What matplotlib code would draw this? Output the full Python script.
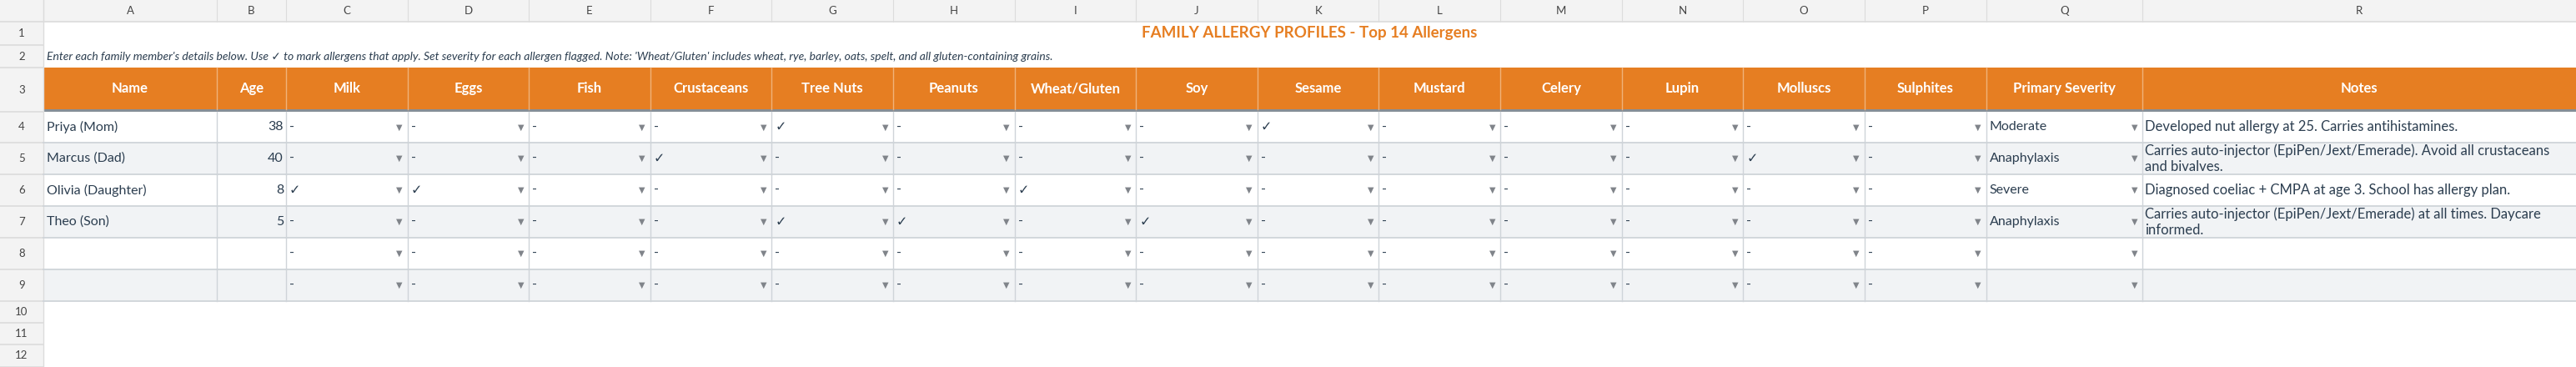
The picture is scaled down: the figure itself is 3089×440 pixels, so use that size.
import matplotlib.pyplot as plt
from matplotlib.patches import Rectangle

plt.rcParams["font.family"] = ["Lato", "DejaVu Sans"]

# Data
title = "FAMILY ALLERGY PROFILES - Top 14 Allergens"
subtitle = ("Enter each family member's details below. Use \u2713 to mark allergens that apply. "
            "Set severity for each allergen flagged. Note: 'Wheat/Gluten' includes wheat, rye, barley, oats, spelt, "
            "and all gluten-containing grains.")
allergens = ["Milk", "Eggs", "Fish", "Crustaceans", "Tree Nuts", "Peanuts", "Wheat/Gluten",
             "Soy", "Sesame", "Mustard", "Celery", "Lupin", "Molluscs", "Sulphites"]
headers = ["Name", "Age"] + allergens + ["Primary Severity", "Notes"]
names = ["Priya (Mom)", "Marcus (Dad)", "Olivia (Daughter)", "Theo (Son)", "", ""]
ages = ["38", "40", "8", "5", "", ""]
flags = [
    ["Tree Nuts", "Sesame"],
    ["Crustaceans", "Molluscs"],
    ["Milk", "Eggs", "Wheat/Gluten"],
    ["Tree Nuts", "Peanuts", "Soy"],
    [],
    [],
]
severity = ["Moderate", "Anaphylaxis", "Severe", "Anaphylaxis", "", ""]
notes = [
    "Developed nut allergy at 25. Carries antihistamines.",
    "Carries auto-injector (EpiPen/Jext/Emerade). Avoid all crustaceans\nand bivalves.",
    "Diagnosed coeliac + CMPA at age 3. School has allergy plan.",
    "Carries auto-injector (EpiPen/Jext/Emerade) at all times. Daycare\ninformed.",
    "", "",
]
col_letters = list("ABCDEFGHIJKLMNOPQR")

# Layout (pixels)
W, H = 3089, 440
aw = (2381.5 - 343) / 14
col_x = [52, 260, 343] + [343 + aw * (i + 1) for i in range(14)] + [2569, 3089]
row_y = [26, 54, 81, 134, 171, 209, 247, 285, 323, 361, 387, 413, 440]

ORANGE = "#E67E22"
TXT = "#2c3e50"
GRID = "#cfd4d9"
HDR_BG = "#f3f3f3"
ALT = "#f1f3f5"
FS = 11.5

fig = plt.figure(figsize=(W / 100, H / 100), dpi=100)
ax = fig.add_axes([0, 0, 1, 1])
ax.set_xlim(0, W)
ax.set_ylim(H, 0)
ax.axis("off")

# spreadsheet headers
ax.add_patch(Rectangle((0, 0), W, 26, color=HDR_BG, lw=0))
ax.add_patch(Rectangle((0, 0), 52, H, color=HDR_BG, lw=0))
for i, L in enumerate(col_letters):
    ax.text((col_x[i] + col_x[i + 1]) / 2, 13, L, ha="center", va="center", fontsize=9.5, color="#444")
    ax.plot([col_x[i], col_x[i]], [0, 26], color="#dcdcdc", lw=0.8)
ax.plot([0, W], [26, 26], color="#dcdcdc", lw=1.2)
row_edges = [0] + row_y
for r in range(12):
    ax.text(26, (row_edges[r + 1] + row_edges[r + 2]) / 2, str(r + 1), ha="center", va="center",
            fontsize=9.5, color="#444")
    ax.plot([0, 52], [row_edges[r + 2], row_edges[r + 2]], color="#dcdcdc", lw=1.2)
ax.plot([52, 52], [0, H], color="#dcdcdc", lw=1)

# title and subtitle
ax.text((52 + W) / 2, 40, title, ha="center", va="center", fontsize=13.5, fontweight="bold", color=ORANGE)
ax.text(56, 68, subtitle, ha="left", va="center", fontsize=10, style="italic", color=TXT)

# header row
ax.add_patch(Rectangle((52, 81), W - 52, 50, color=ORANGE, lw=0))
ax.add_patch(Rectangle((52, 131), W - 52, 3, color="#868e96", lw=0))
for i, h in enumerate(headers):
    ax.text((col_x[i] + col_x[i + 1]) / 2, 106, h, ha="center", va="center", fontsize=12,
            fontweight="bold", color="white")
    if i > 0:
        ax.plot([col_x[i], col_x[i]], [81, 131], color="#f0b27a", lw=1)

# body rows
for r in range(6):
    y0, y1 = row_y[r + 3], row_y[r + 4]
    ym = (y0 + y1) / 2
    ax.add_patch(Rectangle((52, y0), W - 52, y1 - y0, color=ALT if r % 2 else "white", lw=0))
    ax.text(56, ym, names[r], ha="left", va="center", fontsize=FS, color=TXT)
    ax.text(col_x[2] - 3, ym, ages[r], ha="right", va="center", fontsize=FS, color=TXT)
    for j, a in enumerate(allergens):
        x0, x1 = col_x[2 + j], col_x[3 + j]
        mark = "\u2713" if a in flags[r] else "-"
        ax.text(x0 + 4, ym, mark, ha="left", va="center", fontsize=FS, color=TXT,
                family=["DejaVu Sans"] if mark != "-" else None)
        ax.text(x1 - 6, ym, "\u25BC", ha="right", va="center", fontsize=7, color="#80848a",
                family=["DejaVu Sans"])
    ax.text(col_x[16] + 4, ym, severity[r], ha="left", va="center", fontsize=FS, color=TXT)
    ax.text(col_x[17] - 6, ym, "\u25BC", ha="right", va="center", fontsize=7, color="#80848a",
            family=["DejaVu Sans"])
    if notes[r]:
        clip = Rectangle((col_x[17], y0), W - col_x[17], y1 - y0, transform=ax.transData)
        if "\n" in notes[r]:
            t = ax.text(col_x[17] + 3, y0 + 1, notes[r], ha="left", va="top", fontsize=FS + 0.5,
                        color=TXT, linespacing=1.3)
        else:
            t = ax.text(col_x[17] + 3, ym, notes[r], ha="left", va="center", fontsize=FS + 0.5, color=TXT)
        t.set_clip_path(clip)
    ax.plot([52, W], [y1, y1], color=GRID, lw=1.3)
    for x in col_x[1:-1]:
        ax.plot([x, x], [y0, y1], color=GRID, lw=1)

fig.savefig("out.png", dpi=100)
